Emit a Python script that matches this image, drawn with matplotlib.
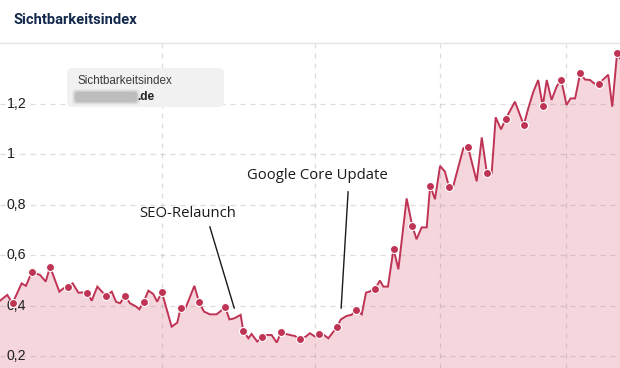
import matplotlib
matplotlib.use("Agg")
import matplotlib.pyplot as plt
from matplotlib.patches import FancyBboxPatch
from matplotlib.lines import Line2D

# ---------------- data ----------------
days = [0, 2.7, 4.7, 8.1, 9.7, 11.9, 15.0, 17.1, 18.7, 22.2, 23.7, 25.5, 27.2, 29.3, 31.2, 32.7,
        34.3, 36.4, 39.6, 41.8, 43.4, 44.9, 46.8, 48.6, 49.9, 50.9, 52.1, 53.7, 55.5, 57.3, 58.8,
        60.5, 64.2, 66.3, 67.6, 69.2, 72.7, 74.5, 76.3, 78.5, 81.0, 84.3, 85.8, 87.3, 88.3, 90.0,
        91.0, 92.9, 94.1, 96.2, 98.1, 99.7, 101.6, 103.5, 105.1, 107.0, 108.5, 110.3, 112.2, 114.4,
        115.9, 117.8, 119.3, 121.2, 122.8, 126.0, 127.5, 129.7, 131.5, 133.1, 135.3, 136.9, 138.1,
        140.3, 142.1, 143.4, 145.1, 147.2, 149.0, 152.1, 154.2, 155.8, 157.7, 159.6, 160.9, 162.7,
        164.6, 166.4, 168.0, 169.5, 173.3, 175.0, 178.3, 180.2, 182.1, 183.9, 185.4, 187.4, 189.1,
        192.6, 195.9, 197.6, 199.5, 201.3, 203.0, 204.5, 206.3, 208.2, 209.9, 211.9, 213.4, 215.1,
        217.0, 218.8, 220.7, 222.3, 224.0, 227.5, 229.0, 230.8, 232.6]
index_values = [0.419, 0.442, 0.409, 0.488, 0.478, 0.533, 0.521, 0.495, 0.554, 0.455, 0.468, 0.475,
                0.488, 0.451, 0.452, 0.451, 0.419, 0.475, 0.438, 0.455, 0.415, 0.409, 0.439, 0.409,
                0.402, 0.396, 0.385, 0.414, 0.459, 0.446, 0.415, 0.454, 0.316, 0.332, 0.392, 0.385,
                0.478, 0.412, 0.376, 0.365, 0.365, 0.393, 0.345, 0.348, 0.353, 0.363, 0.300, 0.270,
                0.287, 0.257, 0.277, 0.283, 0.283, 0.253, 0.293, 0.287, 0.283, 0.279, 0.266, 0.277,
                0.290, 0.277, 0.286, 0.283, 0.270, 0.314, 0.345, 0.359, 0.363, 0.383, 0.365, 0.451,
                0.455, 0.466, 0.499, 0.475, 0.475, 0.625, 0.544, 0.825, 0.716, 0.663, 0.710, 0.710,
                0.876, 0.822, 0.954, 0.932, 0.869, 0.873, 1.024, 1.031, 0.893, 1.067, 0.927, 0.925,
                1.147, 1.099, 1.140, 1.209, 1.117, 1.183, 1.249, 1.295, 1.192, 1.295, 1.216, 1.269,
                1.297, 1.196, 1.222, 1.222, 1.321, 1.297, 1.295, 1.281, 1.281, 1.316, 1.189, 1.401,
                1.370]
marker_days = [4.7, 11.9, 18.7, 25.5, 32.7, 39.6, 46.8, 53.7, 60.5, 67.6, 74.5, 84.3, 91.0, 98.1,
               105.1, 112.2, 119.3, 126.0, 133.1, 140.3, 147.2, 154.2, 160.9, 168.0, 175.0, 182.1,
               189.1, 195.9, 203.0, 209.9, 217.0, 224.0, 230.8]
ytick_vals = [0.2, 0.4, 0.6, 0.8, 1.0, 1.2]
ytick_labels = ["0,2", "0,4", "0,6", "0,8", "1", "1,2"]
vgrid_days = [60.6, 117.8, 164.6, 211.7]
title = "Sichtbarkeitsindex"
legend_title = "Sichtbarkeitsindex"
legend_domain = ".de"
annotations = [
    # text, text (x, y), line start, line end
    ("SEO-Relaunch", (70.3, 0.767), (78.5, 0.712), (87.6, 0.390)),
    ("Google Core Update", (118.6, 0.918), (130.2, 0.851), (127.6, 0.390)),
]

LINE = "#bf3454"
FILL = "#f5d6dd"
GRID = (0.55, 0.55, 0.55, 0.30)

# ---------------- figure ----------------
fig = plt.figure(figsize=(6.2, 3.68), dpi=100)
ax = fig.add_axes([0, 0, 1, 324 / 368])
ax.set_xlim(0, 231.9)
ax.set_ylim(0.152, 1.438)
for s in ax.spines.values():
    s.set_visible(False)
ax.set_xticks([])
ax.set_yticks([])

ax.fill_between(days, index_values, 0, color=FILL, lw=0, zorder=1)
for v in ytick_vals:
    ax.axhline(v, color=GRID, lw=0.9, ls=(0, (4, 4)), zorder=1.5)
for d in vgrid_days:
    ax.axvline(d, color=GRID, lw=0.9, ls=(0, (4, 4)), zorder=1.5)

for v, lab in zip(ytick_vals, ytick_labels):
    ax.text(2.6, v, lab, ha="left", va="center", fontsize=10.2, family="Liberation Sans",
            color="#1e1e1e", zorder=1.8)

ax.plot(days, index_values, color=LINE, lw=1.4, zorder=3, solid_joinstyle="miter")
mvals = [index_values[days.index(d)] for d in marker_days]
ax.plot(marker_days, mvals, ls="none", marker="o", ms=5.8, mfc=LINE, mec="white", mew=0.8, zorder=4)

for text, tpos, p0, p1 in annotations:
    ax.text(tpos[0], tpos[1], text, ha="center", va="center", fontsize=10.7,
            family="Open Sans", color="#1a1a1a", zorder=5)
    ax.plot([p0[0], p1[0]], [p0[1], p1[1]], color="#1a1a1a", lw=1.0, zorder=5)

# tooltip-like legend box
asp = 620 / 324
box = FancyBboxPatch((67 / 620, (368 - 107) / 324), (224 - 67) / 620, 39 / 324,
                     boxstyle="round,pad=0,rounding_size=0.008", mutation_aspect=asp,
                     transform=ax.transAxes, fc="#f1f1f1", ec="none", zorder=6)
ax.add_patch(box)
ax.text(77 / 620, (368 - 80.5) / 324, legend_title, transform=ax.transAxes, ha="left",
        va="center", fontsize=8.4, family="Liberation Sans", color="#3a3a3a", zorder=7)
for grow, a in [(3, 0.10), (2, 0.15), (1, 0.22), (0, 0.30)]:
    blur = FancyBboxPatch(((75 - grow) / 620, (368 - 102 - grow) / 324), (62 + 2 * grow) / 620,
                          (10 + 2 * grow) / 324,
                          boxstyle="round,pad=0,rounding_size=0.006", mutation_aspect=asp,
                          transform=ax.transAxes, fc="#9a9a9a", ec="none", alpha=a, zorder=7)
    ax.add_patch(blur)
ax.text(137 / 620, (368 - 96.5) / 324, legend_domain, transform=ax.transAxes, ha="left",
        va="center", fontsize=8.6, family="Liberation Sans", fontweight="bold",
        color="#222222", zorder=8)

# header
fig.text(13 / 620, (368 - 19.5) / 368, title, ha="left", va="center", fontsize=10.6,
         family="Roboto", fontweight="bold", color="#13294b")
fig.add_artist(Line2D([0, 1], [(368 - 43) / 368] * 2, transform=fig.transFigure,
                      color="#e4e4e4", lw=1.0))

fig.savefig("out.png", dpi=100, facecolor="white")
